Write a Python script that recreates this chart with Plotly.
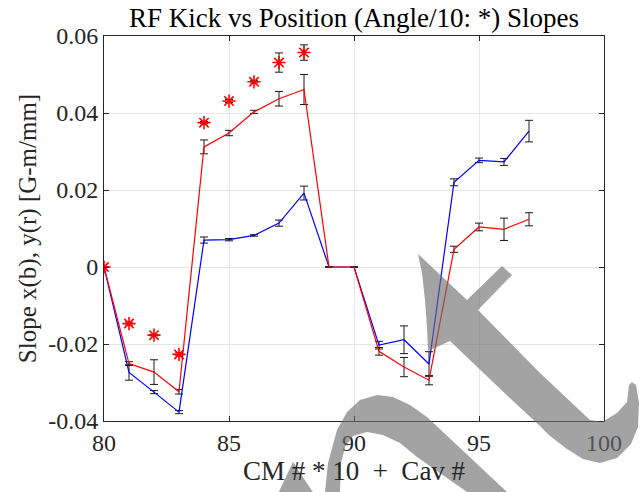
import plotly.graph_objects as go

# ---------------- data ----------------
x_pos = [80, 81, 82, 83, 84, 85, 86, 87, 88, 89, 90, 91, 92, 93, 94, 95, 96, 97]

slope_x_blue = [0, -0.0274, -0.0325, -0.0377, 0.0070, 0.0071, 0.0082, 0.0114, 0.0192,
                0, 0, -0.0203, -0.0189, -0.0252, 0.0220, 0.0277, 0.0273, 0.0353]
err_x_blue = [0, 0.0020, 0.0004, 0.0004, 0.0008, 0.0003, 0.0002, 0.0008, 0.0018,
              0, 0, 0.0010, 0.0036, 0.0032, 0.0009, 0.0006, 0.0009, 0.0028]

slope_y_red = [0, -0.0251, -0.0273, -0.0324, 0.0312, 0.0348, 0.0403, 0.0437, 0.0461,
               0, 0, -0.0219, -0.0260, -0.0294, 0.0046, 0.0104, 0.0098, 0.0124]
err_y_red = [0, 0.0005, 0.0032, 0.0006, 0.0018, 0.0007, 0.0004, 0.0019, 0.0039,
             0, 0, 0.0010, 0.0025, 0.0012, 0.0008, 0.0010, 0.0029, 0.0017]

x_angle = [80, 81, 82, 83, 84, 85, 86, 87, 88]
angle_over_10 = [0, -0.0147, -0.0177, -0.0227, 0.0375, 0.0431, 0.0481, 0.0531, 0.0557]
err_angle = [0, 0.0004, 0.0002, 0.0004, 0.0003, 0.0004, 0.0003, 0.0025, 0.0020]

x_ticks = [80, 85, 90, 95, 100]
y_ticks = [-0.04, -0.02, 0, 0.02, 0.04, 0.06]
y_tick_text = ["-0.04", "-0.02", "0", "0.02", "0.04", "0.06"]

title_text = "RF Kick vs Position (Angle/10: *) Slopes"
x_title = "CM # * 10\u00a0\u00a0+\u00a0\u00a0Cav #"
y_title = "Slope x(b), y(r) [G-m/mm]"

# ---------------- layout constants ----------------
W, H = 642, 492
L, R, T, B = 104, 604, 36, 421
FONT = "Liberation Serif, Times New Roman, serif"
AX = "#262626"
ERR = "#1a1a1a"

fig = go.Figure()

err_style = dict(type="data", visible=True, color=ERR, thickness=1, width=4)

fig.add_trace(go.Scatter(
    x=x_pos, y=slope_x_blue, mode="lines",
    line=dict(color="#0000ff", width=1.2),
    error_y=dict(array=err_x_blue, **err_style), showlegend=False))
fig.add_trace(go.Scatter(
    x=x_pos, y=slope_y_red, mode="lines",
    line=dict(color="#ff0000", width=1.2),
    error_y=dict(array=err_y_red, **err_style), showlegend=False))
fig.add_trace(go.Scatter(
    x=x_angle, y=angle_over_10, mode="markers",
    marker=dict(symbol="asterisk", size=11, color="#ff0000",
                line=dict(color="#ff0000", width=1.6)),
    error_y=dict(array=err_angle, **err_style), showlegend=False))

# ---------------- grey scribble overlay (pixel coords) ----------------
def to_paper(p):
    return ((p[0] - L) / (R - L), (B - p[1]) / (B - T))

pieces = [
    # long diagonal with curved tip, short arm and hook (one outline)
    [(418, 254), (467, 300), (502, 266), (512, 275), (478, 310), (540, 373), (590, 420),
     (602, 422), (617, 413), (627, 402), (629, 385), (632, 382), (636, 385), (639, 403),
     (638, 427), (631, 444), (617, 458), (600, 463), (583, 459), (567, 449), (550, 436),
     (540, 426), (513, 401), (450, 341), (428, 351), (427, 327), (425, 300), (422, 273)],
    # arc at the bottom
    [(323, 500), (325, 492), (328, 463), (337, 430), (347, 412), (360, 400), (377, 395),
     (393, 397), (410, 405), (427, 417), (507, 492), (516, 500), (478, 500), (467, 492),
     (417, 457), (400, 443), (383, 435), (367, 432), (353, 436), (345, 447), (341, 463),
     (340, 492), (340, 500)],
    # small wedge
    [(275, 500), (293, 462), (318, 500)],
]
path = ""
for pc in pieces:
    pts = [to_paper(p) for p in pc]
    path += "M " + " L ".join(f"{a:.4f},{b:.4f}" for a, b in pts) + " Z "

fig.add_shape(type="path", path=path, xref="paper", yref="paper",
              fillcolor="rgb(110,110,110)", opacity=0.63, line=dict(width=0),
              fillrule="nonzero", layer="above")

axis_common = dict(
    showline=True, linecolor=AX, linewidth=1, mirror="ticks",
    ticks="inside", ticklen=5, tickcolor=AX, tickwidth=1,
    showgrid=True, gridcolor="#e6e6e6", gridwidth=1, zeroline=False,
    tickfont=dict(family=FONT, size=24, color=AX),
)

fig.update_layout(
    width=W, height=H,
    margin=dict(l=L, r=W - R, t=T, b=H - B, pad=0),
    paper_bgcolor="white", plot_bgcolor="white",
    title=dict(text=title_text, x=(L + R) / 2 / W, xanchor="center",
               y=1 - 18 / H, yanchor="middle",
               font=dict(family=FONT, size=27, color="#000000")),
    xaxis=dict(range=[80, 100], tickvals=x_ticks,
               title=dict(text=x_title, font=dict(family=FONT, size=27, color=AX), standoff=6),
               **axis_common),
    yaxis=dict(range=[-0.04, 0.06], tickvals=y_ticks, ticktext=y_tick_text,
               title=dict(text=y_title, font=dict(family=FONT, size=25, color=AX), standoff=4),
               **axis_common),
)

fig.write_html("out.html")
